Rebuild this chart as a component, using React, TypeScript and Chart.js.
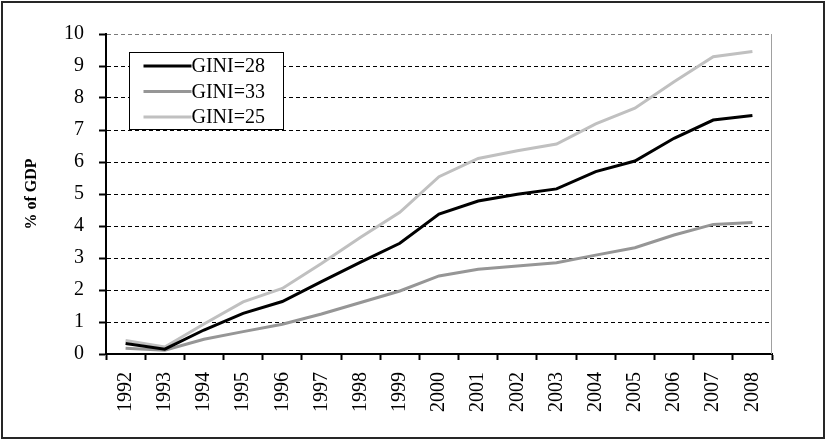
import React, { useEffect, useRef } from 'react';
import { Chart, registerables } from 'chart.js';

Chart.register(...registerables);

const years = ['1992', '1993', '1994', '1995', '1996', '1997', '1998', '1999', '2000', '2001', '2002', '2003', '2004', '2005', '2006', '2007', '2008'];
const gini28 = [0.33, 0.15, 0.75, 1.27, 1.64, 2.26, 2.87, 3.46, 4.37, 4.78, 4.99, 5.16, 5.7, 6.03, 6.74, 7.31, 7.45];
const gini33 = [0.18, 0.12, 0.46, 0.7, 0.93, 1.25, 1.61, 1.97, 2.44, 2.65, 2.75, 2.85, 3.09, 3.32, 3.72, 4.05, 4.11];
const gini25 = [0.42, 0.22, 0.94, 1.63, 2.05, 2.83, 3.65, 4.43, 5.54, 6.11, 6.35, 6.56, 7.19, 7.68, 8.51, 9.29, 9.45];
const seriesLabels = ['GINI=28', 'GINI=33', 'GINI=25'];
const seriesColors = ['#000000', '#969696', '#c0c0c0'];
const yMin = 0;
const yMax = 10;
const yStep = 1;
const yTitle = '% of GDP';

const FONT = "'Liberation Serif', 'Times New Roman', serif";

const decorPlugin = {
  id: 'decor',
  beforeDraw(chart: any) {
    const ctx = chart.ctx;
    ctx.save();
    ctx.fillStyle = '#ffffff';
    ctx.fillRect(0, 0, chart.width, chart.height);
    ctx.strokeStyle = '#262626';
    ctx.lineWidth = 2;
    ctx.strokeRect(2, 2, chart.width - 4, chart.height - 3);
    ctx.restore();
  },
  beforeDatasetsDraw(chart: any) {
    const { ctx, chartArea } = chart;
    ctx.save();
    ctx.strokeStyle = '#a0a0a0';
    ctx.lineWidth = 1;
    ctx.beginPath();
    ctx.moveTo(chartArea.right - 0.5, chartArea.top);
    ctx.lineTo(chartArea.right - 0.5, chartArea.bottom);
    ctx.stroke();
    ctx.restore();
  },
  afterDraw(chart: any) {
    const { ctx, chartArea } = chart;
    const bx = chartArea.left + 23.5;
    const by = chartArea.top + 18.5;
    const bw = 154;
    const bh = 77;
    ctx.save();
    ctx.fillStyle = '#ffffff';
    ctx.fillRect(bx, by, bw, bh);
    ctx.strokeStyle = '#000000';
    ctx.lineWidth = 1;
    ctx.strokeRect(bx, by, bw, bh);
    ctx.font = `20px ${FONT}`;
    ctx.textBaseline = 'middle';
    ctx.textAlign = 'left';
    chart.data.datasets.forEach((ds: any, i: number) => {
      const y = by + 13.5 + i * 25.5;
      ctx.strokeStyle = ds.borderColor;
      ctx.lineWidth = 3;
      ctx.beginPath();
      ctx.moveTo(bx + 14, y);
      ctx.lineTo(bx + 62, y);
      ctx.stroke();
      ctx.fillStyle = '#000000';
      ctx.fillText(ds.label, bx + 62, y + 1);
    });
    ctx.restore();
  },
};

export default function App() {
  const canvasRef = useRef<HTMLCanvasElement | null>(null);

  useEffect(() => {
    const canvas = canvasRef.current;
    if (!canvas) return;
    const series = [gini28, gini33, gini25];
    const chart = new Chart(canvas, {
      type: 'line',
      data: {
        labels: years,
        datasets: series.map((d, i) => ({
          label: seriesLabels[i],
          data: d,
          borderColor: seriesColors[i],
          backgroundColor: seriesColors[i],
          borderWidth: 3,
          pointRadius: 0,
          tension: 0,
          fill: false,
        })),
      },
      options: {
        responsive: false,
        animation: false,
        devicePixelRatio: 1,
        layout: { padding: { left: 0, top: 34, right: 54, bottom: 0 } },
        plugins: {
          legend: { display: false },
          tooltip: { enabled: false },
        },
        scales: {
          x: {
            offset: true,
            grid: {
              offset: true,
              drawOnChartArea: false,
              drawTicks: true,
              tickLength: 6,
              tickColor: '#000000',
              tickWidth: 2,
            },
            border: { display: true, color: '#000000', width: 2 },
            ticks: {
              color: '#000000',
              font: { family: FONT, size: 20 },
              minRotation: 90,
              maxRotation: 90,
              autoSkip: false,
              padding: 12,
            },
            afterFit: (s: any) => {
              s.height = 85;
            },
          },
          y: {
            min: yMin,
            max: yMax,
            grid: {
              color: (c: any) => (c.tick && c.tick.value === yMax ? '#7a7a7a' : '#000000'),
              lineWidth: 1,
              drawTicks: true,
              tickLength: 7,
              tickColor: '#000000',
              tickWidth: 2,
              tickBorderDash: [],
            },
            border: { display: true, color: '#000000', width: 2, dash: [4, 3] },
            ticks: {
              stepSize: yStep,
              color: '#000000',
              font: { family: FONT, size: 20 },
              padding: 15,
            },
            title: {
              display: true,
              text: yTitle,
              color: '#000000',
              font: { family: FONT, size: 16, weight: 'bold' },
              padding: { top: 22, bottom: 0 },
            },
            afterFit: (s: any) => {
              s.width = 106;
            },
          },
        },
      },
      plugins: [decorPlugin],
    });
    return () => {
      chart.destroy();
    };
  }, []);

  return (
    <div style={{ position: 'absolute', left: 0, top: 0, width: 826, height: 439 }}>
      <canvas ref={canvasRef} width={826} height={439} style={{ display: 'block' }} />
    </div>
  );
}
